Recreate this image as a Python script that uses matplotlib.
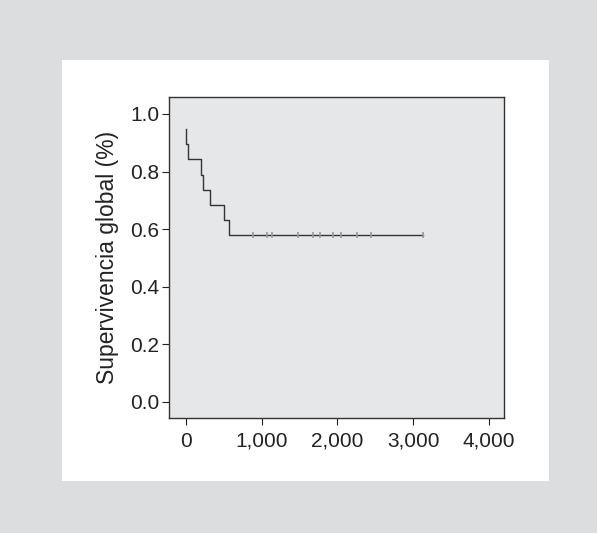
import matplotlib
matplotlib.use("Agg")
import matplotlib.pyplot as plt
from matplotlib.patches import Rectangle

plt.rcParams['font.family'] = ['Liberation Sans', 'DejaVu Sans']

# Kaplan-Meier step data (time in days, survival proportion)
event_times = [0, 0, 35, 200, 225, 315, 505, 565]
survival = [0.947, 0.895, 0.842, 0.789, 0.737, 0.684, 0.632, 0.579]
end_time = 3130
censor_times = [894, 1070, 1141, 1485, 1679, 1776, 1939, 2054, 2265, 2441, 3128]
censor_surv = 0.579

xticks = [0, 1000, 2000, 3000, 4000]
xticklabels = ["0", "1,000", "2,000", "3,000", "4,000"]
yticks = [0.0, 0.2, 0.4, 0.6, 0.8, 1.0]
yticklabels = ["0.0", "0.2", "0.4", "0.6", "0.8", "1.0"]
ylabel = "Supervivencia global (%)"

fig = plt.figure(figsize=(5.97, 5.33), dpi=100)
fig.patch.set_facecolor('#dcdddf')
fig.patches.append(Rectangle((62 / 597, 1 - 481 / 533), (549 - 62) / 597, (481 - 60) / 533,
                             transform=fig.transFigure, facecolor='white', edgecolor='none', zorder=-10))

ax = fig.add_axes([169 / 597, 1 - 418 / 533, (504 - 169) / 597, (418 - 97) / 533])
ax.set_zorder(5)
ax.set_facecolor('#e6e7e9')

xs = list(event_times) + [end_time]
ys = list(survival) + [survival[-1]]
ax.step(xs, ys, where='post', color='#333333', lw=1.0)
ax.plot(censor_times, [censor_surv] * len(censor_times), linestyle='none', marker='|',
        color='#999999', markersize=4, markeredgewidth=1.2)

ax.set_xlim(-221, 4200)
ax.set_ylim(-0.056, 1.059)
ax.set_xticks(xticks)
ax.set_xticklabels(xticklabels)
ax.set_yticks(yticks)
ax.set_yticklabels(yticklabels)
for s in ax.spines.values():
    s.set_color('#333333')
    s.set_linewidth(1.0)
ax.tick_params(axis='both', labelsize=15, colors='#222222', length=5, width=0.8, direction='out')
ax.tick_params(axis='x', pad=5)
ax.tick_params(axis='y', pad=2)
ax.set_ylabel(ylabel, fontsize=16.5, color='#222222', labelpad=8)

fig.savefig('out.png', dpi=100, facecolor=fig.get_facecolor())
